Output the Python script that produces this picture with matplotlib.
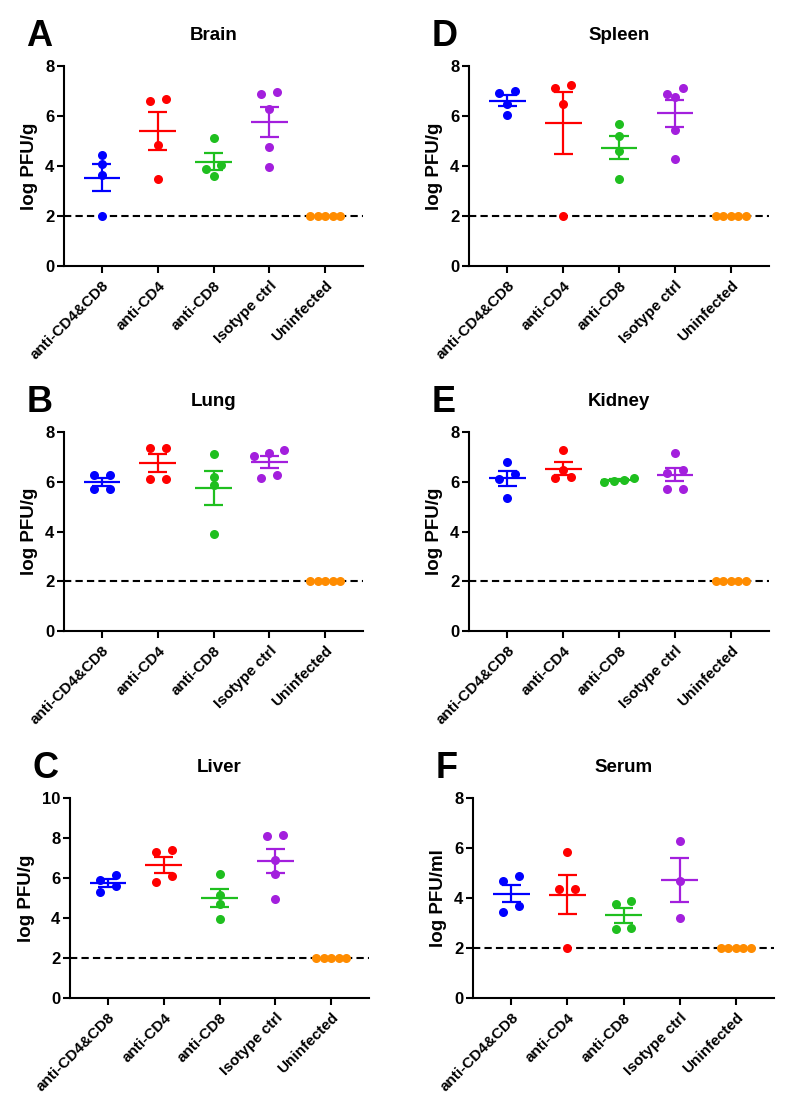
import numpy as np
from matplotlib import pyplot as plt

plt.rcParams['font.family'] = ['Liberation Sans', 'DejaVu Sans']
plt.rcParams['font.weight'] = 'bold'
plt.rcParams['axes.titleweight'] = 'bold'
plt.rcParams['axes.labelweight'] = 'bold'

groups = ['anti-CD4&CD8', 'anti-CD4', 'anti-CD8', 'Isotype ctrl', 'Uninfected']
colors = ['#0000FF', '#FF0000', '#1FBF1F', '#A31FDD', '#FF8C00']
limit = 2.0  # detection limit

brain = [[4.45, 4.07, 3.63, 2.0],
         [6.61, 6.69, 4.83, 3.47],
         [5.13, 4.06, 3.90, 3.59],
         [6.96, 6.90, 6.29, 4.77, 3.96],
         [2.0, 2.0, 2.0, 2.0, 2.0]]
spleen = [[7.01, 6.93, 6.48, 6.04],
          [7.23, 7.12, 6.48, 2.0],
          [5.68, 5.20, 4.61, 3.47],
          [7.12, 6.90, 6.77, 5.46, 4.30],
          [2.0, 2.0, 2.0, 2.0, 2.0]]
lung = [[6.27, 6.27, 5.72, 5.72],
        [7.37, 7.37, 6.11, 6.11],
        [7.13, 6.20, 5.86, 3.88],
        [7.29, 7.14, 7.05, 6.26, 6.15],
        [2.0, 2.0, 2.0, 2.0, 2.0]]
kidney = [[6.78, 6.30, 6.11, 5.35],
          [7.29, 6.49, 6.18, 6.15],
          [6.14, 6.08, 6.05, 5.99],
          [7.16, 6.49, 6.35, 5.71, 5.71],
          [2.0, 2.0, 2.0, 2.0, 2.0]]
liver = [[6.15, 5.92, 5.62, 5.30],
         [7.42, 7.32, 6.10, 5.80],
         [6.20, 5.17, 4.70, 3.93],
         [8.16, 8.08, 6.92, 6.20, 4.93],
         [2.0, 2.0, 2.0, 2.0, 2.0]]
serum = [[4.88, 4.69, 3.69, 3.46],
         [5.83, 4.36, 4.36, 2.0],
         [3.89, 3.77, 2.82, 2.76],
         [6.27, 4.67, 3.22],
         [2.0, 2.0, 2.0, 2.0, 2.0]]


def swarm(vals, thr):
    """spread points that sit at nearly the same height side by side"""
    vals = np.asarray(vals)
    order = np.argsort(-vals, kind='stable')
    rows = []
    for i in order:
        if rows and vals[rows[-1][0]] - vals[i] < thr:
            rows[-1].append(i)
        else:
            rows.append([i])
    off = np.zeros(len(vals))
    for row in rows:
        n = len(row)
        if n == 1:
            continue
        row = sorted(row, key=lambda k: vals[k])  # higher one goes right
        s = min(0.28, 0.54 / (n - 1))
        for k, i in enumerate(row):
            off[i] = (k - (n - 1) / 2) * s
    return off


def panel(rect, data, title, letter, ylabel, ymax):
    ax = fig.add_axes(rect)
    ax.axhline(limit, color='black', lw=1.5, ls=(0, (3.5, 2)), zorder=1)
    for i, vals in enumerate(data):
        x = i + swarm(vals, 0.3 * ymax / 8)
        ax.plot(x, vals, 'o', color=colors[i], ms=6.5, mew=0, zorder=3)
        m = np.mean(vals)
        sem = np.std(vals, ddof=1) / np.sqrt(len(vals))
        ax.hlines(m, i - 0.33, i + 0.33, color=colors[i], lw=1.6, zorder=4)
        ax.vlines(i, m - sem, m + sem, color=colors[i], lw=1.6, zorder=4)
        ax.hlines([m - sem, m + sem], i - 0.17, i + 0.17, color=colors[i], lw=1.6, zorder=4)
    ax.set_xlim(-0.68, 4.68)
    ax.set_ylim(0, ymax)
    ax.set_yticks(np.arange(0, ymax + 1, 2))
    ax.set_xticks(range(len(groups)))
    ax.set_xticklabels(groups, rotation=45, ha='right', rotation_mode='anchor', fontsize=11)
    ax.tick_params(axis='y', labelsize=12, width=1.5, length=5, pad=2)
    ax.tick_params(axis='x', width=1.5, length=5, pad=4)
    for sp in ['top', 'right']:
        ax.spines[sp].set_visible(False)
    for sp in ['left', 'bottom']:
        ax.spines[sp].set_linewidth(1.5)
    ax.set_ylabel(ylabel, fontsize=13.5, labelpad=5)
    ax.set_title(title, fontsize=13.5, pad=19)
    bb = ax.get_position()
    fig.text(bb.x0 - 0.047, bb.y1 + 0.018, letter, fontsize=26, ha='left', va='baseline')
    return ax


W, H = 797, 1117
fig = plt.figure(figsize=(W / 100, H / 100), dpi=100)


def r(l, t, w, h):
    return [l / W, 1 - (t + h) / H, w / W, h / H]


panel(r(64, 66, 299, 200), brain, 'Brain', 'A', 'log PFU/g', 8)
panel(r(469, 66, 300, 200), spleen, 'Spleen', 'D', 'log PFU/g', 8)
panel(r(64, 432, 299, 199), lung, 'Lung', 'B', 'log PFU/g', 8)
panel(r(469, 432, 300, 199), kidney, 'Kidney', 'E', 'log PFU/g', 8)
panel(r(70, 798, 299, 200), liver, 'Liver', 'C', 'log PFU/g', 10)
panel(r(473, 798, 301, 200), serum, 'Serum', 'F', 'log PFU/ml', 8)

fig.savefig('out.png', dpi=100)
